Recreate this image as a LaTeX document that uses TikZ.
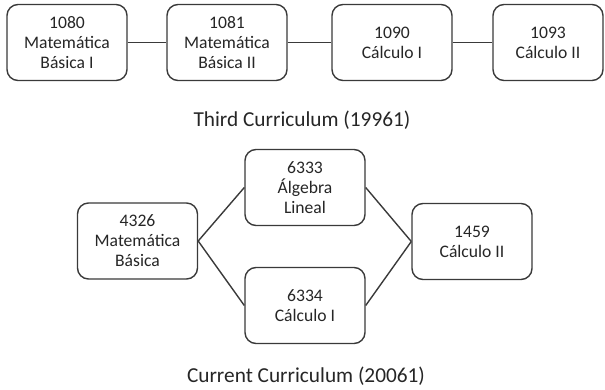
\documentclass[tikz,border=0pt]{standalone}
\usepackage{fontspec}
\setmainfont{Carlito}
\usepackage{tikz}
\usetikzlibrary{positioning}
\definecolor{cLine}{HTML}{3A3A3A}
\definecolor{cText}{HTML}{262626}

\begin{document}
\begin{tikzpicture}[
  x=1pt, y=-1pt,
  course/.style={
    draw=cLine, fill=white, rounded corners=11pt, line width=1.4pt,
    minimum width=#1, minimum height=76pt, align=center, inner sep=2pt,
    text=cText, font=\fontsize{17.6}{20}\selectfont,
  },
  course/.default=120pt,
  link/.style={draw=cLine, line width=1.4pt},
  caption/.style={font=\fontsize{21.3}{25}\selectfont, text=cText, anchor=base},
]
\useasboundingbox (0,0) rectangle (605,389);

%% ── Third curriculum (top row) ──────────────────────────────────────
\node[course] (c1080) at (67,42.5)  {1080\\Matemática\\Básica I};
\node[course] (c1081) at (227,42.5) {1081\\Matemática\\Básica II};
\node[course] (c1090) at (392,42.5) {1090\\Cálculo I};
\node[course=110pt] (c1093) at (548,42.5) {1093\\Cálculo II};

\draw[link] (c1080) -- (c1081);
\draw[link] (c1081) -- (c1090);
\draw[link] (c1090) -- (c1093);

\node[caption] (third) at (302,126) {Third Curriculum (19961)};

%% ── Current curriculum (diamond) ────────────────────────────────────
\node[course] (c4326) at (137.5,241) {4326\\Matemática\\Básica};
\node[course] (c6333) at (305,187.5) {6333\\Álgebra\\Lineal};
\node[course] (c6334) at (305,305.5) {6334\\Cálculo I};
\node[course] (c1459) at (472,241.5) {1459\\Cálculo II};

\draw[link] (c4326.east) -- (c6333.west);
\draw[link] (c4326.east) -- (c6334.west);
\draw[link] (c6333.east) -- (c1459.west);
\draw[link] (c6334.east) -- (c1459.west);

\node[caption] (current) at (306,382) {Current Curriculum (20061)};

\end{tikzpicture}
\end{document}
